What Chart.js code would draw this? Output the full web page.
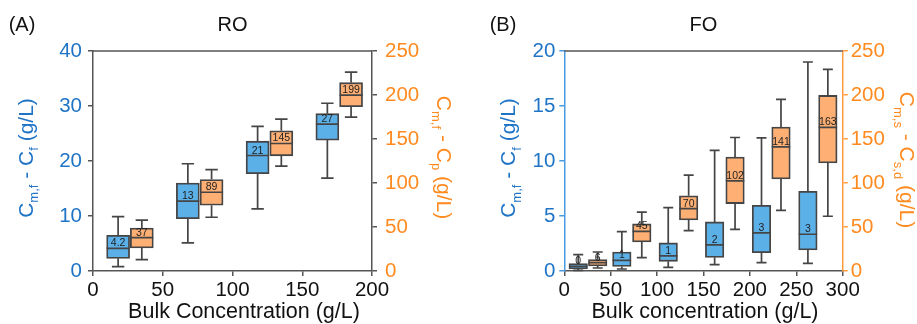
<!DOCTYPE html>
<html>
<head>
<meta charset="utf-8">
<script src="https://cdn.jsdelivr.net/npm/chart.js@4/dist/chart.umd.min.js"></script>
<style>
  html, body { margin: 0; padding: 0; background: #fff; }
  #wrap { position: relative; width: 917px; height: 324px; }
  .panel { position: absolute; top: 0; height: 324px; }
</style>
</head>
<body>
<div id="wrap">
  <div class="panel" style="left:0;width:460px"><canvas id="ro"></canvas></div>
  <div class="panel" style="left:460px;width:457px"><canvas id="fo"></canvas></div>
</div>
<script>
const FONT = "'Liberation Sans', Arial, sans-serif";
const BLUE_TEXT = "#1f74c6";
const ORANGE_TEXT = "#ff8a1f";
const BLUE_FILL = "#5cb0e8";
const ORANGE_FILL = "#fdaf74";
const EDGE = "#454545";
const AXIS = "#555555";

// box stats are [min, q1, median, q3, max]
const roMembraneX = [18, 68, 118, 168];
const roMembraneBoxes = [
  [0.8, 2.3, 4.1, 6.5, 9.9],
  [5.1, 9.5, 12.7, 16.0, 19.5],
  [11.3, 17.7, 21.0, 23.6, 26.3],
  [16.9, 23.8, 26.7, 28.6, 30.5],
];
const roMembraneLabels = ["4.2", "13", "21", "27"];

const roPermeateX = [35, 85, 135, 185];
const roPermeateBoxes = [
  [12.9, 26.2, 37.9, 48.9, 57.7],
  [61.1, 74.7, 89.5, 103.9, 115.3],
  [119.1, 130.9, 144.9, 159.3, 172.6],
  [174.9, 186.6, 199.9, 214.0, 226.1],
];
const roPermeateLabels = ["37", "89", "145", "199"];

const foFeedX = [15, 62, 112, 162, 212.5, 262.5];
const foFeedBoxes = [
  [0.06, 0.18, 0.42, 0.67, 1.49],
  [0.18, 0.42, 0.97, 1.73, 3.58],
  [0.33, 0.88, 1.37, 2.55, 5.77],
  [0.58, 1.24, 2.37, 4.46, 10.96],
  [0.76, 1.67, 3.46, 5.98, 12.1],
  [0.70, 1.91, 3.34, 7.25, 19.0],
];
const foFeedLabels = ["0", "1", "1", "2", "3", "3"];

const foDrawX = [36, 83.5, 134, 184, 233.5, 284];
const foDrawBoxes = [
  [3.4, 5.7, 9.5, 12.9, 21.6],
  [15.2, 33.0, 45.1, 53.5, 66.8],
  [45.9, 58.0, 70.9, 85.4, 108.9],
  [47.4, 76.6, 102.4, 129.4, 151.7],
  [69.0, 104.7, 141.1, 163.5, 195.0],
  [62.2, 122.9, 163.1, 199.5, 229.1],
];
const foDrawLabels = ["6", "45", "70", "102", "141", "163"];

Chart.defaults.font.family = FONT;

function drawRichText(ctx, parts, cx, cy, angle, color, size) {
  const subSize = 13;
  ctx.save();
  ctx.translate(cx, cy);
  ctx.rotate(angle);
  ctx.fillStyle = color;
  ctx.textBaseline = "alphabetic";
  ctx.textAlign = "left";
  let total = 0;
  parts.forEach(([text, sub]) => {
    ctx.font = (sub ? subSize : size) + "px " + FONT;
    total += ctx.measureText(text).width;
  });
  let x = -total / 2;
  const base = size * 0.358;
  parts.forEach(([text, sub]) => {
    ctx.font = (sub ? subSize : size) + "px " + FONT;
    ctx.fillText(text, x, sub ? base + 5.5 : base);
    x += ctx.measureText(text).width;
  });
  ctx.restore();
}

const boxPlot = {
  id: "boxPlot",
  afterDatasetsDraw(chart) {
    const ctx = chart.ctx;
    chart.data.datasets.forEach((ds, di) => {
      const meta = chart.getDatasetMeta(di);
      const yScale = chart.scales[meta.yAxisID];
      meta.data.forEach((bar, i) => {
        const [lo, q1, med, q3, hi] = ds.stats[i];
        const half = bar.width / 2;
        const cap = bar.width * 0.27;
        const y = (v) => yScale.getPixelForValue(v);
        ctx.save();
        ctx.strokeStyle = EDGE;
        ctx.lineWidth = 1.7;
        ctx.beginPath();
        ctx.moveTo(bar.x, y(q3)); ctx.lineTo(bar.x, y(hi));
        ctx.moveTo(bar.x - cap, y(hi)); ctx.lineTo(bar.x + cap, y(hi));
        ctx.moveTo(bar.x, y(q1)); ctx.lineTo(bar.x, y(lo));
        ctx.moveTo(bar.x - cap, y(lo)); ctx.lineTo(bar.x + cap, y(lo));
        ctx.moveTo(bar.x - half, y(med)); ctx.lineTo(bar.x + half, y(med));
        ctx.stroke();
        ctx.fillStyle = "#1e1e1e";
        ctx.font = "10.5px " + FONT;
        ctx.textAlign = "center";
        ctx.textBaseline = "alphabetic";
        ctx.fillText(ds.boxLabels[i], bar.x, y(med) - 2);
        ctx.restore();
      });
    });
  },
};

const panelText = {
  id: "panelText",
  afterDraw(chart, args, opts) {
    const ctx = chart.ctx;
    const area = chart.chartArea;
    ctx.save();
    ctx.strokeStyle = AXIS;
    ctx.lineWidth = 1.5;
    ctx.beginPath();
    ctx.moveTo(area.left, area.top);
    ctx.lineTo(area.right, area.top);
    ctx.stroke();
    ctx.fillStyle = "#111";
    ctx.textBaseline = "middle";
    ctx.textAlign = "center";
    ctx.font = "20px " + FONT;
    ctx.fillText(opts.tag, opts.tagX, 25);
    ctx.fillText(opts.title, (area.left + area.right) / 2, 25);
    ctx.font = "21.5px " + FONT;
    ctx.fillText(opts.xTitle, opts.xTitleX, 312);
    ctx.restore();
    drawRichText(ctx, opts.leftTitle, opts.leftX, opts.leftY, -Math.PI / 2, BLUE_TEXT, 21);
    drawRichText(ctx, opts.rightTitle, opts.rightX, opts.rightY, Math.PI / 2, ORANGE_TEXT, 21);
  },
};

function boxDataset(xs, boxes, labels, fill, axis, width) {
  return {
    data: xs.map((x, i) => ({ x: x, y: [boxes[i][1], boxes[i][3]] })),
    stats: boxes,
    boxLabels: labels,
    yAxisID: axis,
    backgroundColor: fill,
    borderColor: EDGE,
    borderWidth: 1.8,
    borderSkipped: false,
    barThickness: width,
    grouped: false,
  };
}

function makePanel(canvasId, cfg) {
  const tickFont = { size: 20.5 };
  return new Chart(document.getElementById(canvasId), {
    type: "bar",
    data: {
      datasets: [
        boxDataset(cfg.blueX, cfg.blueBoxes, cfg.blueLabels, BLUE_FILL, "y", cfg.boxWidth),
        boxDataset(cfg.orangeX, cfg.orangeBoxes, cfg.orangeLabels, ORANGE_FILL, "y2", cfg.boxWidth),
      ],
    },
    options: {
      responsive: true,
      maintainAspectRatio: false,
      devicePixelRatio: 1,
      animation: false,
      layout: { padding: { top: 51, right: 0, bottom: 0, left: 0 } },
      plugins: {
        legend: { display: false },
        tooltip: { enabled: false },
        panelText: cfg.text,
      },
      scales: {
        x: {
          type: "linear",
          min: 0,
          max: cfg.xMax,
          offset: false,
          afterFit: (s) => { s.height = 53; },
          ticks: { stepSize: 50, color: "#111", font: tickFont, padding: 2, maxRotation: 0, autoSkip: false },
          grid: { offset: false, drawOnChartArea: false, tickLength: 5, color: AXIS, lineWidth: 1.5 },
          border: { color: AXIS, width: 1.5 },
        },
        y: {
          position: "left",
          min: 0,
          max: cfg.yMax,
          afterFit: (s) => { s.width = cfg.leftWidth; },
          ticks: { stepSize: cfg.yStep, color: BLUE_TEXT, font: tickFont, padding: cfg.leftPad },
          grid: { drawOnChartArea: false, tickLength: 5, color: cfg.leftAxisColor, lineWidth: 1.5 },
          border: { color: cfg.leftAxisColor, width: 1.5 },
        },
        y2: {
          position: "right",
          min: 0,
          max: 250,
          afterFit: (s) => { s.width = cfg.rightWidth; },
          ticks: { stepSize: 50, color: ORANGE_TEXT, font: tickFont, padding: cfg.rightPad },
          grid: { drawOnChartArea: false, tickLength: 5, color: cfg.rightAxisColor, lineWidth: 1.5 },
          border: { color: cfg.rightAxisColor, width: 1.5 },
        },
      },
    },
    plugins: [boxPlot, panelText],
  });
}

makePanel("ro", {
  blueX: roMembraneX, blueBoxes: roMembraneBoxes, blueLabels: roMembraneLabels,
  orangeX: roPermeateX, orangeBoxes: roPermeateBoxes, orangeLabels: roPermeateLabels,
  boxWidth: 23, xMax: 200, yMax: 40, yStep: 10,
  leftWidth: 93, rightWidth: 88, leftPad: 6, rightPad: 8,
  leftAxisColor: AXIS, rightAxisColor: AXIS,
  text: {
    tag: "(A)", tagX: 22, title: "RO",
    xTitle: "Bulk Concentration (g/L)", xTitleX: 244,
    leftTitle: [["C", 0], ["m,f", 1], [" - C", 0], ["f", 1], [" (g/L)", 0]],
    leftX: 25, leftY: 158,
    rightTitle: [["C", 0], ["m,f", 1], [" - C", 0], ["p", 1], [" (g/L)", 0]],
    rightX: 445, rightY: 157.5,
  },
});

makePanel("fo", {
  blueX: foFeedX, blueBoxes: foFeedBoxes, blueLabels: foFeedLabels,
  orangeX: foDrawX, orangeBoxes: foDrawBoxes, orangeLabels: foDrawLabels,
  boxWidth: 18.5, xMax: 300, yMax: 20, yStep: 5,
  leftWidth: 104.3, rightWidth: 74.3, leftPad: 4, rightPad: 3,
  leftAxisColor: "#4a9be0", rightAxisColor: "#ff9a3c",
  text: {
    tag: "(B)", tagX: 43, title: "FO",
    xTitle: "Bulk concentration (g/L)", xTitleX: 245,
    leftTitle: [["C", 0], ["m,f", 1], [" - C", 0], ["f", 1], [" (g/L)", 0]],
    leftX: 47.5, leftY: 158,
    rightTitle: [["C", 0], ["m,s", 1], [" - C", 0], ["s,d", 1], [" (g/L)", 0]],
    rightX: 447.5, rightY: 160,
  },
});
</script>
</body>
</html>
